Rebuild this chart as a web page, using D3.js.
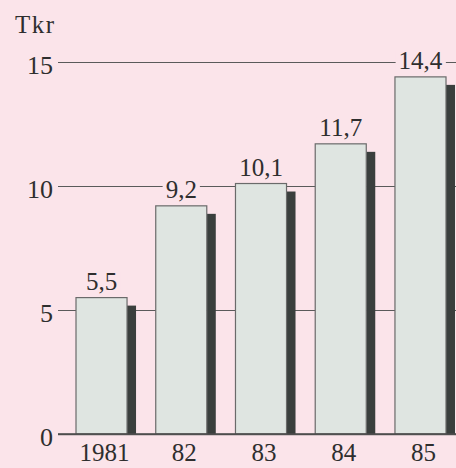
<!DOCTYPE html>
<html>
<head>
<meta charset="utf-8">
<script src="https://cdn.jsdelivr.net/npm/d3@7"></script>
<style>
  html, body { margin: 0; padding: 0; background: #fbe4ea; }
  svg { display: block; }
  text { font-family: "Times New Roman", "Liberation Serif", Times, serif; fill: #2e2e2e; }
</style>
</head>
<body>
<svg id="chart" width="456" height="468"></svg>
<script>
// data
var years = ["1981", "82", "83", "84", "85"];
var values = [5.5, 9.2, 10.1, 11.7, 14.4];
var yTicks = [0, 5, 10, 15];
var unit = "Tkr";

var W = 456, H = 468;
var svg = d3.select('#chart');

// skalaer
var x = d3.scaleBand().domain(years).range([76, 446]).paddingInner(0.36).paddingOuter(0);
var y = d3.scaleLinear().domain([0, 15]).range([434, 62]);

var fmt = d3.formatLocale({decimal: ",", thousands: ".", grouping: [3], currency: ["", " kr"]}).format(".1f");

// bakgrunn
svg.append('rect').attr('width', W).attr('height', H).attr('fill', '#fbe4ea');

// rutenett
var yAxis = d3.axisLeft(y).tickValues(yTicks).tickSize(0).tickPadding(5).tickFormat(d3.format('d'));
var gy = svg.append('g').attr('transform', 'translate(58,0)').call(yAxis);
gy.select('.domain').remove();
gy.selectAll('.tick text')
  .attr('font-size', 26)
  .attr('font-family', null)
  .attr('fill', '#2e2e2e')
  .attr('dy', '0.45em');
gy.selectAll('.tick').append('line')
  .attr('x1', 0).attr('x2', W - 58)
  .attr('stroke', '#5a5a5a')
  .attr('stroke-width', function(d) { return d === 0 ? 1.6 : 1.1; });

svg.append('text')
  .attr('x', 15).attr('y', 33)
  .attr('font-size', 25)
  .attr('letter-spacing', 1.5)
  .text(unit);

// skygge
var bars = svg.append('g');
bars.selectAll('rect.shadow')
  .data(values)
  .join('rect')
  .attr('class', 'shadow')
  .attr('x', function(d, i) { return x(years[i]) + x.bandwidth(); })
  .attr('y', function(d) { return y(d) + 8; })
  .attr('width', 9)
  .attr('height', function(d) { return y(0) - y(d) - 8; })
  .attr('fill', '#3a3f3d');

// stolper
bars.selectAll('rect.bar')
  .data(values)
  .join('rect')
  .attr('class', 'bar')
  .attr('x', function(d, i) { return x(years[i]); })
  .attr('y', function(d) { return y(d); })
  .attr('width', x.bandwidth())
  .attr('height', function(d) { return y(0) - y(d); })
  .attr('fill', '#dfe5e1')
  .attr('stroke', '#6a6a6a')
  .attr('stroke-width', 1.2);

// x-akse linje over stolpene
svg.append('line')
  .attr('x1', 58).attr('x2', W)
  .attr('y1', y(0)).attr('y2', y(0))
  .attr('stroke', '#4a4a4a').attr('stroke-width', 1.6);

// verdier
var labels = svg.append('g');
values.forEach(function(v, i) {
  var g = labels.append('g');
  var bg = g.append('rect').attr('fill', '#fbe4ea');
  var t = g.append('text')
    .attr('x', x(years[i]) + x.bandwidth() / 2)
    .attr('y', y(v) - 8)
    .attr('text-anchor', 'middle')
    .attr('font-size', 25)
    .text(fmt(v));
  var b = t.node().getBBox();
  bg.attr('x', b.x - 3).attr('y', b.y + 4).attr('width', b.width + 6).attr('height', b.height - 6);
});

// årstall
svg.append('g').selectAll('text')
  .data(years)
  .join('text')
  .attr('x', function(d) { return x(d) + x.bandwidth() / 2 + 3; })
  .attr('y', 461)
  .attr('text-anchor', 'middle')
  .attr('font-size', 25)
  .text(function(d) { return d; });
</script>
</body>
</html>
